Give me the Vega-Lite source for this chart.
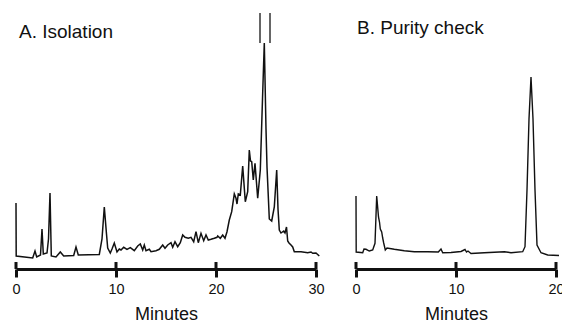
{
  "$schema": "https://vega.github.io/schema/vega-lite/v6.json",
  "background": "white",
  "padding": {"left": 11, "top": 8, "right": 0, "bottom": 0},
  "bounds": "flush",
  "spacing": 40,
  "config": {
    "view": {"stroke": null},
    "font": "Liberation Sans",
    "axis": {
      "grid": false,
      "domainWidth": 3,
      "domainColor": "#111",
      "tickWidth": 3,
      "tickColor": "#111",
      "tickSize": 8,
      "labelFontSize": 14.5,
      "labelPadding": 5,
      "labelColor": "#111",
      "labelFlush": false,
      "labelOverlap": false,
      "titleFontSize": 18,
      "titleFontWeight": "normal",
      "titleColor": "#111",
      "titlePadding": 10
    },
    "title": {"fontSize": 19, "fontWeight": "normal", "color": "#111", "anchor": "start", "frame": "group", "baseline": "alphabetic"}
  },
  "datasets": {
    "isolation": [
      {"t": 0, "v": 66}, {"t": 0.02, "v": 13}, {"t": 1.67, "v": 11}, {"t": 1.9, "v": 18}, {"t": 2.07, "v": 12},
      {"t": 2.45, "v": 14}, {"t": 2.6, "v": 40}, {"t": 2.73, "v": 15}, {"t": 3.1, "v": 16}, {"t": 3.25, "v": 30},
      {"t": 3.4, "v": 76}, {"t": 3.53, "v": 13}, {"t": 4.0, "v": 12}, {"t": 4.43, "v": 17}, {"t": 4.77, "v": 13},
      {"t": 5.77, "v": 13.5}, {"t": 6.0, "v": 22}, {"t": 6.23, "v": 14}, {"t": 8.33, "v": 14.5}, {"t": 8.6, "v": 30},
      {"t": 8.83, "v": 62}, {"t": 9.05, "v": 35}, {"t": 9.17, "v": 21}, {"t": 9.43, "v": 16}, {"t": 9.6, "v": 20},
      {"t": 9.83, "v": 26}, {"t": 10.1, "v": 17}, {"t": 10.33, "v": 20}, {"t": 10.5, "v": 19}, {"t": 10.77, "v": 21.7},
      {"t": 11.1, "v": 19.7}, {"t": 11.43, "v": 21.3}, {"t": 11.83, "v": 18.3}, {"t": 12.17, "v": 23}, {"t": 12.43, "v": 25},
      {"t": 12.67, "v": 19}, {"t": 12.83, "v": 24}, {"t": 13.0, "v": 18.3}, {"t": 13.33, "v": 19.7}, {"t": 13.5, "v": 17.3},
      {"t": 14.0, "v": 18.3}, {"t": 14.33, "v": 19.7}, {"t": 14.67, "v": 24}, {"t": 14.9, "v": 20.7}, {"t": 15.17, "v": 24},
      {"t": 15.5, "v": 26.3}, {"t": 15.67, "v": 21.7}, {"t": 15.9, "v": 27.3}, {"t": 16.17, "v": 22.3}, {"t": 16.43, "v": 26.3},
      {"t": 16.67, "v": 34}, {"t": 16.9, "v": 31.7}, {"t": 17.23, "v": 30.7}, {"t": 17.5, "v": 31.7}, {"t": 17.77, "v": 27.3},
      {"t": 18.0, "v": 37.3}, {"t": 18.23, "v": 26.3}, {"t": 18.5, "v": 35.7}, {"t": 18.77, "v": 28.3}, {"t": 19.0, "v": 34},
      {"t": 19.23, "v": 29}, {"t": 19.5, "v": 29.7}, {"t": 19.83, "v": 30.7}, {"t": 20.1, "v": 31.7}, {"t": 20.17, "v": 33},
      {"t": 20.43, "v": 30.7}, {"t": 20.67, "v": 34}, {"t": 20.9, "v": 30.7}, {"t": 21.1, "v": 37.3}, {"t": 21.33, "v": 49},
      {"t": 21.57, "v": 57.3}, {"t": 21.83, "v": 75}, {"t": 22.0, "v": 70.7}, {"t": 22.1, "v": 65}, {"t": 22.23, "v": 75},
      {"t": 22.43, "v": 74}, {"t": 22.67, "v": 103}, {"t": 22.93, "v": 67.3}, {"t": 23.17, "v": 77.3}, {"t": 23.33, "v": 119},
      {"t": 23.45, "v": 108}, {"t": 23.57, "v": 107.3}, {"t": 23.73, "v": 89}, {"t": 23.9, "v": 105.7}, {"t": 24.17, "v": 70.7},
      {"t": 24.43, "v": 99}, {"t": 24.65, "v": 170}, {"t": 24.83, "v": 226}, {"t": 25.0, "v": 140}, {"t": 25.1, "v": 102},
      {"t": 25.33, "v": 50}, {"t": 25.57, "v": 48}, {"t": 25.83, "v": 62}, {"t": 26.07, "v": 99}, {"t": 26.2, "v": 60},
      {"t": 26.33, "v": 39}, {"t": 26.5, "v": 36}, {"t": 26.77, "v": 38}, {"t": 26.9, "v": 36}, {"t": 27.05, "v": 42},
      {"t": 27.17, "v": 28}, {"t": 27.3, "v": 26}, {"t": 27.5, "v": 24}, {"t": 27.67, "v": 22}, {"t": 27.83, "v": 17.3},
      {"t": 28.5, "v": 17.3}, {"t": 29.17, "v": 16.3}, {"t": 29.5, "v": 17}, {"t": 29.67, "v": 15.7}, {"t": 30.0, "v": 16},
      {"t": 30.33, "v": 13}
    ],
    "purity": [
      {"t": 0, "v": 73}, {"t": 0.02, "v": 17}, {"t": 0.67, "v": 16.3}, {"t": 0.8, "v": 20}, {"t": 1.0, "v": 19.7},
      {"t": 1.33, "v": 18}, {"t": 1.67, "v": 19}, {"t": 1.9, "v": 25.7}, {"t": 2.07, "v": 73}, {"t": 2.25, "v": 52},
      {"t": 2.35, "v": 47}, {"t": 2.43, "v": 40}, {"t": 2.57, "v": 37}, {"t": 2.67, "v": 31}, {"t": 2.77, "v": 26},
      {"t": 2.93, "v": 19}, {"t": 3.1, "v": 21}, {"t": 3.83, "v": 19.7}, {"t": 4.83, "v": 18.3}, {"t": 5.83, "v": 17.3},
      {"t": 7.17, "v": 17.3}, {"t": 8.23, "v": 17}, {"t": 8.5, "v": 20}, {"t": 8.67, "v": 16.3}, {"t": 9.5, "v": 16.5},
      {"t": 10.5, "v": 17.5}, {"t": 10.9, "v": 19.5}, {"t": 11.05, "v": 17}, {"t": 11.2, "v": 18}, {"t": 11.5, "v": 15.5},
      {"t": 12.83, "v": 16.3}, {"t": 14.83, "v": 17.3}, {"t": 15.5, "v": 16.3}, {"t": 16.67, "v": 17.3}, {"t": 16.9, "v": 22.3},
      {"t": 17.1, "v": 79}, {"t": 17.3, "v": 150}, {"t": 17.5, "v": 192}, {"t": 17.7, "v": 150}, {"t": 17.9, "v": 79},
      {"t": 18.1, "v": 24}, {"t": 18.5, "v": 16.3}, {"t": 19.17, "v": 14}, {"t": 20.3, "v": 13.5}
    ],
    "ticksA": [{"t": 0}, {"t": 10}, {"t": 20}, {"t": 30}],
    "ticksB": [{"t": 0}, {"t": 10}, {"t": 20}],
    "markers": [{"t": 24.4}, {"t": 25.4}]
  },
  "hconcat": [
    {
      "width": 300,
      "height": 261,
      "title": {"text": "A. Isolation", "offset": -34, "dx": 3},
      "encoding": {
        "x": {"field": "t", "type": "quantitative", "title": "Minutes",
              "scale": {"domain": [0, 30], "nice": false},
              "axis": {"values": [0, 10, 20, 30]}}
      },
      "layer": [
        {"data": {"name": "isolation"}, "mark": {"type": "line", "color": "#111", "strokeWidth": 1.5},
         "encoding": {"y": {"field": "v", "type": "quantitative", "scale": {"domain": [0, 261], "nice": false}, "axis": null}}},
        {"data": {"name": "ticksA"}, "mark": {"type": "rule", "color": "#111", "strokeWidth": 3},
         "encoding": {"y": {"datum": 0}, "y2": {"datum": 7}}},
        {"data": {"name": "markers"}, "mark": {"type": "rule", "color": "#333", "strokeWidth": 1.5},
         "encoding": {"y": {"datum": 226}, "y2": {"datum": 256}}}
      ]
    },
    {
      "width": 200,
      "height": 261,
      "title": {"text": "B. Purity check", "offset": -30, "dx": 1},
      "encoding": {
        "x": {"field": "t", "type": "quantitative", "title": "Minutes",
              "scale": {"domain": [0, 20], "nice": false},
              "axis": {"values": [0, 10, 20]}}
      },
      "layer": [
        {"data": {"name": "purity"}, "mark": {"type": "line", "color": "#111", "strokeWidth": 1.4},
         "encoding": {"y": {"field": "v", "type": "quantitative", "scale": {"domain": [0, 261], "nice": false}, "axis": null}}},
        {"data": {"name": "ticksB"}, "mark": {"type": "rule", "color": "#111", "strokeWidth": 3},
         "encoding": {"y": {"datum": 0}, "y2": {"datum": 7}}}
      ]
    }
  ]
}
